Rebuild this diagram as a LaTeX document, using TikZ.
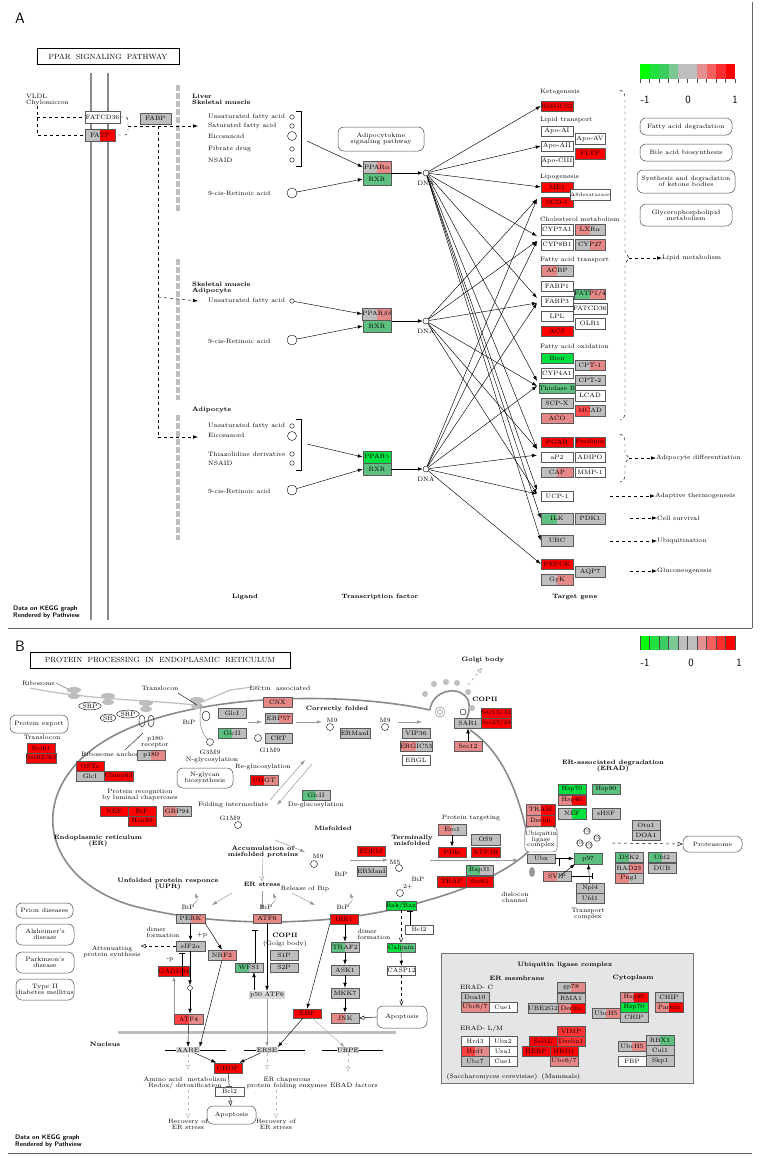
\documentclass[tikz,border=0pt]{standalone}
\usetikzlibrary{arrows.meta,calc,shapes.geometric}
\definecolor{R}{HTML}{FF0000}
\definecolor{PK}{HTML}{E48888}
\definecolor{GY}{HTML}{BEBEBE}
\definecolor{GN}{HTML}{00E040}
\definecolor{LG}{HTML}{5EC080}
\definecolor{LN}{HTML}{8A8A8A}
\newcommand\tf{\fontsize{6.3}{6.8}\selectfont}
\newcommand\gb[7]{\node[gene,fill=#6,minimum width={(#4-#2)*1pt},minimum height={(#5-#3)*1pt}] (#1) at ({(#2+#4)/2},{(#3+#5)/2}) {#7};}
\newcommand\gs[8]{\node[gene,fill=#6,minimum width={(#4-#2)*1pt},minimum height={(#5-#3)*1pt},path picture={\fill[#7] (path picture bounding box.south) rectangle (path picture bounding box.north east);}] (#1) at ({(#2+#4)/2},{(#3+#5)/2}) {#8};}
\newcommand\rb[6]{\node[rbox,minimum width={(#4-#2)*1pt},minimum height={(#5-#3)*1pt}] (#1) at ({(#2+#4)/2},{(#3+#5)/2}) {#6};}
\begin{document}
\begin{tikzpicture}[x=1pt,y=-1pt,
 gene/.style={draw=black!65,line width=0.5pt,inner sep=0pt,font=\tf,rectangle},
 rbox/.style={draw=black!70,rounded corners=6pt,inner sep=0pt,font=\tf,align=center,line width=0.5pt},
 lab/.style={font=\tf,inner sep=0pt,align=center},
 bl/.style={font=\tf\bfseries,inner sep=0pt,align=center},
 arr/.style={-{Latex[length=5pt,width=3.5pt]},line width=0.45pt},
 darr/.style={arr,dashed},
 garr/.style={-{Latex[length=5pt,width=3.5pt]},draw=GY!80!black,line width=0.8pt},
 oarr/.style={-{Triangle[open,length=5pt,width=4pt]},line width=0.45pt},
 inh/.style={-{Bar[width=6pt]},line width=0.45pt},
 dot/.style={circle,draw=black,fill=white,inner sep=0pt,minimum size=#1},
 dot/.default=5pt,
 leg/.style={font=\sffamily\fontsize{11}{12}\selectfont,inner sep=0pt}]
\useasboundingbox (0,0) rectangle (761,1160);
\fill[white] (0,0) rectangle (761,1160);

%================= PANEL A ==================
\node[font=\sffamily\fontsize{15}{16}\selectfont,inner sep=0] (labA) at (20,18) {A};
\node[draw,line width=0.8pt,minimum width=142pt,minimum height=16pt,inner sep=0,font=\fontsize{7.5}{8}\selectfont] (titA) at (108,56.5) {PPAR\ \ SIGNALING\ \ PATHWAY};
\draw[line width=0.6pt,black!60] (752,2) -- (752,628);
\draw[line width=0.6pt,black!60] (8,628) -- (752,628);
% legend
\foreach \c [count=\i from 0] in {00FF00,22E040,3CCC60,7CC894,BEBEBE,BEBEBE,E49090,F26060,FA2E2E,FF0000}{
  \definecolor{tmp}{HTML}{\c}\fill[tmp] ({640+\i*9.5},64) rectangle ({649.5+\i*9.5},79);}
\foreach \i in {0,...,10}{\draw[black!70,line width=0.4pt] ({640+\i*9.5},79) -- ({640+\i*9.5},83);}
\node[leg] (lgA1) at (645,100) {-1};
\node[leg] (lgA2) at (688,100) {0};
\node[leg] (lgA3) at (735,100) {1};

% membrane
\draw[LN,line width=2.5pt] (91,73) -- (91,620);
\draw[LN,line width=2.5pt] (108,73) -- (108,620);
\foreach \a/\b in {85/213,259/400,415/540}{\draw[GY,line width=3.5pt,dash pattern=on 6pt off 2pt] (178,\a) -- (178,\b);}
\node[lab,align=left,anchor=west] (vldl) at (26,100) {VLDL\\[-1pt]Chylomicron};
\gb{fatcd}{85}{111}{120}{123}{white}{FATCD36}
\gs{fatp}{85}{129}{115}{141}{GY}{R}{FATP}
\gb{fabp}{140}{113}{171}{124}{GY}{FABP}
\draw[dashed,line width=0.45pt] (37,106) -- (37,135) -- (fatp.west);
\draw[dashed,line width=0.45pt] (37,117) -- (fatcd.west);
\draw[dashed,line width=0.45pt,rounded corners=3pt] (fatcd.east) -- (128,117) -- (128,135) -- (fatp.east);
\coordinate (fa1) at (198,126);
\coordinate (fa2) at (198,301);
\coordinate (fa3) at (198,437);
\draw[darr] (128,126) -- (fa1);
\draw[dashed,line width=0.45pt] (158,126) -- (158,437);
\draw[darr] (158,297) -- (fa2);
\draw[darr] (158,437) -- (fa3);

% group 1
\node[bl,align=left,anchor=west] (g1t) at (192,99) {Liver\\[-1pt]Skeletal muscle};
\foreach \t/\y in {Unsaturated fatty acid/117,Saturated fatty acid/126,Eicosanoid/136,Fibrate drug/149,NSAID/160}{\node[lab,anchor=west] at (208,\y) {\t};}
\foreach \y in {117,126,149,160}{\node[dot=4.5pt] at (292,\y) {};}
\node[dot=9pt] (eic1) at (292,136) {};
\draw[line width=0.45pt] (296,111) -- (301,111) -- (301,166) -- (296,166);
\coordinate (br1) at (307,141);
\node[lab,anchor=west] (rt1l) at (208,193) {9-cis-Retinoic acid};
\node[dot=10pt] (rt1) at (292,193) {};
\rb{adip}{338}{127}{424}{151}{Adipocytokine\\[-1pt]signaling pathway}
\gs{ppara}{363}{161}{391}{173}{GY}{PK}{PPAR$\alpha$}
\gb{rxr1}{363}{173}{391}{185}{LG}{RXR}
\draw[arr] (br1) -- (ppara.west);
\draw[arr] (rt1) -- (rxr1.west);
\node[dot=6pt] (d1) at (426,173) {};
\node[lab] (d1l) at (426,183) {DNA};
\draw[arr] (ppara.east|-d1) -- (d1);

% group 2
\node[bl,align=left,anchor=west] (g2t) at (192,288) {Skeletal muscle\\[-1pt]Adipocyte};
\node[lab,anchor=west] (u2l) at (208,301) {Unsaturated fatty acid};
\node[dot=4.5pt] (u2) at (292,301) {};
\node[lab,anchor=west] (rt2l) at (208,341) {9-cis-Retinoic acid};
\node[dot=10pt] (rt2) at (292,340) {};
\gs{pparb}{363}{308}{391}{320}{GY}{PK}{PPAR$\beta\delta$}
\gb{rxr2}{363}{320}{391}{332}{LG}{RXR}
\draw[arr] (u2) -- (pparb.west);
\draw[arr] (rt2) -- (rxr2.west);
\node[dot=6pt] (d2) at (426,321) {};
\node[lab] (d2l) at (426,331) {DNA};
\draw[arr] (pparb.east|-d2) -- (d2);

% group 3
\node[bl,anchor=west] (g3t) at (192,410) {Adipocyte};
\foreach \t/\y in {Unsaturated fatty acid/426,Eicosanoid/435,Thiazolidine derivative/454,NSAID/463}{\node[lab,anchor=west] at (208,\y) {\t};}
\foreach \y in {426,454,463}{\node[dot=4.5pt] at (292,\y) {};}
\node[dot=9pt] (eic3) at (292,436) {};
\draw[line width=0.45pt] (296,419) -- (301,419) -- (301,470) -- (296,470);
\coordinate (br3) at (307,444);
\node[lab,anchor=west] (rt3l) at (208,491) {9-cis-Retinoic acid};
\node[dot=10pt] (rt3) at (292,490) {};
\gb{pparg}{363}{451}{391}{463}{GN}{PPAR$\gamma$}
\gb{rxr3}{363}{463}{391}{475}{LG}{RXR}
\draw[arr] (br3) -- (pparg.west);
\draw[arr] (rt3) -- (rxr3.west);
\node[dot=6pt] (d3) at (426,469) {};
\node[lab] (d3l) at (426,479) {DNA};
\draw[arr] (pparg.east|-d3) -- (d3);

% target genes
\node[lab,anchor=west] at (540,92) {Ketogenesis};
\gb{hmg}{541}{101}{573}{111}{R}{HMGCS2}
\node[lab,anchor=west] at (540,120) {Lipid transport};
\gb{apo1}{541}{126}{573}{136}{white}{Apo-AI}
\gb{apo2}{541}{141}{573}{151}{white}{Apo-AII}
\gb{apo3}{541}{156}{573}{166}{white}{Apo-CIII}
\gb{apo5}{575}{133}{605}{144}{white}{Apo-AV}
\gb{pltp}{575}{148}{605}{159}{R}{PLTP}
\node[lab,anchor=west] at (540,177) {Lipogenesis};
\gb{me1}{541}{182}{573}{192}{R}{ME1}
\gb{scd}{541}{197}{573}{207}{R}{SCD-1}
\gb{d9}{575}{189}{605}{200}{white}{\fontsize{5}{5}\selectfont$\Delta$9desaturase}
\node[lab,anchor=west] at (540,219) {Cholesterol metabolism};
\gb{cyp7}{541}{224}{573}{235}{white}{CYP7A1}
\gb{cyp8}{541}{239}{573}{250}{white}{CYP8B1}
\gs{lxr}{575}{224}{605}{235}{PK}{GY}{LXR$\alpha$}
\gs{cyp27}{575}{239}{605}{250}{GY}{PK}{CYP27}
\node[lab,anchor=west] at (540,260) {Fatty acid transport};
\gs{acbp}{541}{265}{573}{276}{PK}{GY}{ACBP}
\gb{fabp1}{541}{281}{573}{291}{white}{FABP1}
\gb{fabp3}{541}{296}{573}{306}{white}{FABP3}
\gb{lpl}{541}{311}{573}{321}{white}{LPL}
\gb{acs}{541}{326}{573}{336}{R}{ACS}
\gs{fatp14}{575}{289}{605}{299}{LG}{PK}{FATP1/4}
\gb{fatcd2}{575}{303}{605}{314}{white}{FATCD36}
\gb{olr1}{575}{318}{605}{329}{white}{OLR1}
\node[lab,anchor=west] at (540,347) {Fatty acid oxidation};
\gb{bien}{541}{353}{573}{363}{GN}{Bien}
\gb{cyp4}{541}{368}{573}{378}{white}{CYP4A1}
\gb{thiol}{541}{383}{573}{393}{LG}{Thiolase B}
\gb{scpx}{541}{398}{573}{408}{GY}{SCP-X}
\gb{aco}{541}{413}{573}{423}{PK}{ACO}
\gs{cpt1}{575}{360}{605}{370}{GY}{PK}{CPT-1}
\gb{cpt2}{575}{375}{605}{385}{GY}{CPT-2}
\gb{lcad}{575}{390}{605}{401}{white}{LCAD}
\gs{mcad}{575}{405}{605}{416}{R!70}{GY}{MCAD}
\gb{pgar}{541}{437}{573}{447}{R}{PGAR}
\gb{peri}{575}{437}{605}{447}{R}{Perilipin}
\gb{ap2}{541}{452}{573}{462}{white}{aP2}
\gb{adipo}{575}{452}{605}{462}{white}{ADIPO}
\gs{cap}{541}{467}{573}{477}{GY}{PK}{CAP}
\gb{mmp1}{575}{467}{605}{477}{white}{MMP-1}
\gb{ucp1}{541}{491}{573}{501}{white}{UCP-1}
\gs{ilk}{541}{513}{573}{524}{LG}{GY}{ILK}
\gb{pdk1}{575}{513}{605}{524}{GY}{PDK1}
\gb{ubc}{541}{535}{573}{546}{GY}{UBC}
\gb{pepck}{541}{559}{573}{569}{R}{PEPCK}
\gs{gyk}{541}{574}{573}{585}{GY}{PK}{GyK}
\gb{aqp7}{575}{566}{605}{577}{GY}{AQP7}
% DNA arrows
\coordinate (tc1) at (537,236);
\coordinate (tf1) at (537,298);
\coordinate (tf2) at (537,303);
\coordinate (to1) at (537,381);
\coordinate (to2) at (537,386);
\coordinate (tp1) at (537,449);
\coordinate (tp2) at (537,455);
\coordinate (tu1) at (537,490);
\coordinate (tu2) at (537,494);
\coordinate (tc2) at (537,241);
\coordinate (tl2) at (537,199);
\foreach \t in {hmg.west,apo2.west,me1.west,tc1,tf1,to1,tp1,tu1,ilk.west,ubc.west}{\draw[arr] (d1) -- (\t);}
\foreach \t in {tl2,tf2,to2,tc2,tp1,tu2}{\draw[arr] (d2) -- (\t);}
\foreach \t in {tc2,tf2,to2,tp2,tu2,pepck.west,tl2}{\draw[arr] (d3) -- (\t);}
% right side
\rb{fad}{640}{118}{732}{135}{Fatty acid degradation}
\rb{bile}{640}{144}{732}{161}{Bile acid biosynthesis}
\rb{ket}{637}{170}{735}{193}{Synthesis and degradation\\[-1pt]of ketone bodies}
\rb{glyc}{640}{204}{732}{226}{Glycerophospholipid\\[-1pt]metabolism}
\draw[dashed,line width=0.45pt] (620,90) to[out=0,in=90] (625,96) -- (625,252) -- (629,258) -- (625,264) -- (625,412) to[out=-90,in=0] (620,420);
\draw[dashed,line width=0.45pt] (620,434) to[out=0,in=90] (625,440) -- (625,453) -- (629,458) -- (625,463) -- (625,476) to[out=-90,in=0] (620,482);
\node[lab,anchor=west] (lipm) at (662,258) {Lipid metabolism};
\node[lab,anchor=west] (adid) at (656,458) {Adipocyte differentiation};
\node[lab,anchor=west] (adth) at (655,496) {Adaptive thermogenesis};
\node[lab,anchor=west] (cels) at (657,518) {Cell survival};
\node[lab,anchor=west] (ubq) at (657,541) {Ubiquitination};
\node[lab,anchor=west] (glu) at (657,571) {Gluconeogenesis};
\draw[darr] (629,258) -- (lipm.west);
\draw[darr] (629,458) -- (adid.west);
\draw[darr] (610,496) -- (adth.west);
\draw[darr] (630,518) -- (cels.west);
\draw[darr] (610,541) -- (ubq.west);
\draw[darr] (630,571) -- (glu.west);
\node[bl] at (245,597) {Ligand};
\node[bl] at (380,597) {Transcription factor};
\node[bl] at (575,597) {Target gene};
\node[font=\sffamily\bfseries\fontsize{6.5}{7}\selectfont,anchor=west,inner sep=0,align=left] (dk1) at (13,612) {Data on KEGG graph\\Rendered by Pathview};

%================= PANEL B ==================
\node[font=\sffamily\fontsize{15}{16}\selectfont,inner sep=0] (labB) at (20,646) {B};
\node[draw,line width=0.8pt,minimum width=260pt,minimum height=16pt,inner sep=0,font=\fontsize{7.5}{8}\selectfont] (titB) at (160,660) {PROTEIN\ \ PROCESSING\ \ IN\ \ ENDOPLASMIC\ \ RETICULUM};
\draw[line width=0.6pt,black!60] (8,1153) -- (752,1153);
\foreach \c [count=\i from 0] in {00FF00,22E040,3CCC60,7CC894,BEBEBE,BEBEBE,E49090,F26060,FA2E2E,FF0000}{
  \definecolor{tmp}{HTML}{\c}\fill[tmp] ({640+\i*9.5},636) rectangle ({649.5+\i*9.5},650);}
\foreach \i in {0,...,10}{\draw[black!70,line width=0.4pt] ({640+\i*9.5},636) -- ({640+\i*9.5},650);}
\node[leg] (lgB1) at (645,663) {-1};
\node[leg] (lgB2) at (691,663) {0};
\node[leg] (lgB3) at (739,663) {1};

% ER membrane
\draw[LN,line width=1.6pt] (430,710) .. controls (340,690) and (150,690) .. (80,760)
  .. controls (30,810) and (50,880) .. (130,905) .. controls (220,930) and (340,925) .. (410,905)
  .. controls (470,890) and (510,870) .. (530,850);
\draw[LN,line width=1.6pt] (530,850) .. controls (520,790) and (500,750) .. (470,730);
\draw[LN,line width=1.6pt] (430,710) .. controls (432,690) and (460,684) .. (468,700) .. controls (472,712) and (465,722) .. (462,724);
\draw[GY!80!black,line width=0.6pt] (440,712) circle (5pt);
\draw[GY!80!black,line width=0.6pt] (440,712) circle (2.5pt);
\draw[black,line width=0.4pt,fill=white] (463,712) circle (3pt);
\foreach \p in {(425,694),(434,684),(446,682),(457,683),(468,692),(472,708)}{\fill[GY] \p circle (3pt);}
\node[bl] (golgi) at (483,660) {Golgi body};
\draw[garr,dashed,line width=0.5pt,-{Triangle[open,length=5pt,width=4pt]}] (468,685) -- (482,668);
% ribosome track
\node[lab,anchor=east] (ribo) at (55,683) {Ribosome};
\draw[GY!80!black,line width=0.7pt] (56,683) -- (70,690);
\draw[GY,line width=1.2pt] (30,688) .. controls (90,700) and (150,700) .. (195,705);
\draw[GY,line width=1.2pt] (195,705) -- (230,690) -- (260,686);
\foreach \p in {(74,690),(108,696),(146,703),(197,700)}{\fill[GY] \p ellipse (7pt and 3pt); \fill[GY] \p ++(0,6) ellipse (6pt and 3pt);}
\node[draw,ellipse,inner sep=0.5pt,font=\tf,fill=white] (srp1) at (90,706) {SRP};
\node[draw,ellipse,inner sep=0.5pt,font=\tf,fill=white] (sr) at (108,718) {SR};
\node[draw,ellipse,inner sep=0.5pt,font=\tf,fill=white] (srp2) at (128,714) {SRP};
\draw[black,line width=0.4pt] (142,721) ellipse (3pt and 6pt) (151,721) ellipse (3pt and 6pt);
\node[lab] (transl) at (160,688) {Translocon};
\draw[line width=0.4pt] (178,693) -- (197,705);
\rb{pexp}{10}{715}{68}{733}{Protein export}
\node[lab] at (42,737) {Translocon};
\gb{sec61a}{27}{743}{55}{753}{R}{Sec61}
\gb{sec62}{27}{753}{55}{763}{R}{Sec62/63}
\node[lab] at (110,754) {Ribosome anchor};
\node[lab] at (155,742) {p180\\[-1pt]receptor};
\draw[line width=0.4pt] (143,733) -- (125,750);
\gs{p180}{137}{750}{165}{760}{GY}{PK}{p180}
\gb{osts}{76}{761}{104}{771}{R}{OSTs}
\gb{glci1}{76}{771}{104}{781}{GY}{GlcI}
\gb{climp}{104}{771}{133}{781}{R}{Climp63}
\node[lab] at (189,722) {BiP};
\draw[line width=0.4pt,fill=white] (206,716) ellipse (4pt and 5pt);
\draw[GY!70!black,line width=0.5pt] (201,705) .. controls (198,725) and (202,735) .. (210,742);
\node[dot=7pt] (g3m9c) at (210,742) {};
\node[lab] at (210,752) {G3M9};
\node[lab] at (212,760) {N-glycosylation};
\rb{nglyc}{177}{768}{233}{788}{N-glycan\\[-1pt]biosynthesis}
\gb{glci}{218}{708}{246}{718}{GY}{GlcI}
\gs{glcii}{218}{728}{246}{738}{LG}{GY}{GlcII}
\draw[garr,line width=0.5pt] (248,722) -- (262,722);
\node[lab] at (280,688) {Lectin\ \ associated};
\gb{cnx}{263}{697}{292}{707}{PK}{CNX}
\gs{erp57}{265}{713}{292}{723}{GY}{PK}{ERP57}
\gb{crt}{265}{733}{292}{743}{GY}{CRT}
\node[dot=7pt] (g1m9c) at (258,738) {};
\node[lab] at (270,750) {G1M9};
\node[lab] at (263,767) {Re-glucosylation};
\gs{uggt}{250}{775}{278}{785}{R}{PK}{UGGT}
\node[bl] at (337,709) {Correctly folded};
\draw[garr,line width=0.5pt] (296,722) -- (322,722);
\node[lab] at (332,720) {M9};
\node[dot=7pt] at (330,727) {};
\gb{ermani}{340}{728}{370}{738}{GY}{ERManI}
\draw[garr,line width=0.5pt] (398,722) -- (422,722);
\node[lab] at (385,720) {M9};
\node[dot=7pt] at (385,727) {};
\gb{vip36}{402}{728}{430}{738}{GY}{VIP36}
\gs{ergic}{402}{741}{430}{751}{PK}{GY}{ERGIC53}
\gb{ergl}{402}{755}{430}{765}{white}{ERGL}
\gs{glcii2}{302}{790}{330}{800}{LG}{GY}{GlcII}
\node[lab] at (316,805) {De-glucosylation};
\node[lab] at (233,805) {Folding intermediate};
\node[lab] at (230,818) {G1M9};
\node[dot=7pt] at (238,825) {};
\draw[garr,line width=0.5pt] (270,800) -- (305,760);
\draw[garr,line width=0.5pt] (312,764) -- (277,805);
\node[lab] at (140,795) {Protein recognition\\[-1pt]by luminal chaperones};
\gb{nef1}{100}{806}{128}{816}{R}{NEF}
\gb{bip1}{128}{806}{156}{816}{R}{BiP}
\gb{hsp40a}{128}{816}{156}{826}{R}{Hsp40}
\gs{grp94}{163}{806}{191}{816}{PK}{GY}{GRP94}
\node[bl] at (98,841) {Endoplasmic reticulum\\[-1pt](ER)};
\node[bl] at (333,828) {Misfolded};
\node[bl] (accum) at (263,852) {Accumulation of\\[-1pt]misfolded proteins};
\draw[garr,line width=0.5pt] (275,840) -- (305,852);
\node[lab] at (318,856) {M9};
\node[dot=7pt] at (314,864) {};
\node[lab] at (341,874) {BiP};
\gb{edem}{357}{846}{385}{856}{R}{EDEM}
\gb{ermani2}{358}{866}{385}{876}{GY}{ERManI}
\draw[garr,line width=0.5pt] (350,860) -- (388,860);
\node[lab] at (395,862) {M5};
\node[dot=7pt] at (399,868) {};
\node[lab] at (418,879) {BiP};
\node[bl] at (412,840) {Terminally\\[-1pt]misfolded};
\node[lab] at (471,818) {Protein targeting};
\gs{ero1}{438}{824}{466}{835}{PK}{GY}{Ero1}
\gb{os9}{471}{834}{500}{845}{GY}{OS9}
\gb{pdis}{438}{847}{466}{857}{R}{PDIs}
\gb{xtp3b}{471}{847}{500}{857}{R}{XTP3B}
\draw[arr] (ero1) -- (pdis);
\draw[garr,line width=0.5pt] (430,860) -- (518,860);
\gs{bap31}{466}{865}{493}{875}{LG}{GY}{Bap31}
\gb{trap}{437}{876}{466}{887}{R}{TRAP}
\gb{sec61b}{466}{876}{493}{887}{R}{Sec61}
\node[bl] at (485,699) {COPII};
\gb{sar1}{454}{718}{482}{728}{GY}{SAR1}
\gb{sec13}{482}{708}{510}{718}{R}{Sec13/31}
\gb{sec23}{482}{718}{510}{728}{R}{Sec23/24}
\gb{sec12}{454}{741}{482}{751}{PK}{Sec12}
\draw[arr] (sec12) -- (sar1);
\node[bl] at (613,766) {ER-associated degradation\\[-1pt](ERAD)};
\gb{hsp70a}{558}{784}{586}{794}{GN}{Hsp70}
\gb{hsp90}{592}{784}{620}{794}{LG}{Hsp90}
\gs{hsp40b}{558}{795}{586}{805}{PK}{R}{Hsp40}
\gs{nef2}{558}{808}{586}{819}{GY}{GN}{NEF}
\gb{shsf}{592}{808}{620}{819}{GY}{sHSF}
\gs{tram}{526}{804}{555}{815}{PK}{R}{TRAM}
\gs{derlin}{526}{815}{555}{826}{PK}{R}{Derlin}
\node[draw=black!70,rounded corners=4pt,inner sep=0,font=\tf,align=center,minimum width=30pt,minimum height=25pt,fill=white] (ulc) at (541,839.5) {Ubiquitin\\[-1.5pt]ligase\\[-1.5pt]complex};
\gb{ubx}{527}{854}{555}{863}{GY}{Ubx}
\gb{p97}{574}{853}{602}{864}{LG}{p97}
\foreach \p in {(587,831),(597,838),(589,845),(580,843)}{\draw[line width=0.4pt,fill=white] \p circle (3.3pt); \node[font=\fontsize{4}{4}\selectfont,inner sep=0] at \p {Ub};}
\gb{otu1}{632}{820}{660}{830}{GY}{Otu1}
\gb{doa1}{632}{830}{660}{840}{GY}{DOA1}
\rb{prot}{683}{836}{742}{852}{Proteasome}
\coordinate (pa) at (612,843);
\draw[dashed,line width=0.45pt,-{Triangle[open,length=5pt,width=4pt]}] (pa) -- (prot.west);
\gs{dsk2}{615}{852}{643}{862}{LG}{GY}{DSK2}
\gs{ufd2}{648}{852}{676}{862}{LG}{GY}{Ufd2}
\gs{rad23}{615}{863}{643}{873}{GY}{PK}{RAD23}
\gb{dub}{648}{863}{676}{873}{GY}{DUB}
\gs{png1}{615}{873}{643}{883}{PK}{GY}{Png1}
\gs{svip}{543}{871}{571}{881}{PK}{GY}{SVIP}
\gb{npl4}{576}{883}{604}{893}{GY}{Npl4}
\gb{ufd1}{576}{893}{604}{903}{GY}{Ufd1}
\node[lab] at (588,914) {Transport\\[-1pt]complex};
\node[lab] at (515,897) {dislocon\\[-1pt]channel};
\draw[arr] (ubx) -- (p97);
\draw[arr] (npl4) -- (p97);
\draw[arr] (560,876) -- (575,864);
\draw[inh] (svip.east) -- (592,876);
\draw[inh] (559,866) -- (559,858);
\fill[GY!80!black] (532,872) ellipse (3pt and 5pt);

% UPR
\node[bl] at (168,884) {Unfolded protein responce\\[-1pt](UPR)};
\node[bl] (erstress) at (262,884) {ER stress};
\draw[oarr,draw=GY!80!black] (accum.south) -- (erstress.north);
\node[lab] at (305,889) {Release of Bip};
\draw[garr,line width=0.5pt] (232,893) -- (212,905);
\draw[garr,line width=0.5pt] (262,891) -- (262,910);
\draw[garr,line width=0.5pt] (292,893) -- (315,905);
\foreach \x in {188,266,343}{\node[lab] at (\x,907) {BiP}; \draw[garr,line width=0.5pt] (\x+5,905) .. controls (\x+10,900) .. (\x+7,893);}
\node[lab] at (408,887) {2+};
\node[dot=7pt] at (400,893) {};
\rb{prion}{16}{903}{73}{918}{Prion diseases}
\rb{alz}{16}{924}{74}{945}{Alzheimer's\\[-1pt]disease}
\rb{park}{16}{952}{74}{973}{Parkinson's\\[-1pt]disease}
\rb{t2d}{16}{979}{74}{1000}{Type II\\[-1pt]diabetes mellitus}
\gs{perk}{176}{914}{205}{923}{GY}{PK}{PERK}
\gb{atf6}{253}{914}{281}{923}{PK}{ATF6}
\gb{ire1}{330}{914}{358}{924}{R}{IRE1}
\gb{bakbax}{387}{901}{415}{910}{GN}{Bak/Bax}
\gb{bcl2a}{405}{925}{433}{934}{white}{Bcl2}
\node[lab,align=left] at (163,932) {dimer\\[-1pt]formation};
\node[lab] at (202,935) {+p};
\gb{eif2a}{176}{941}{205}{951}{GY}{eIF2$\alpha$}
\node[lab] (atten) at (112,952) {Attenuating\\[-1pt]protein synthesis};
\gs{nrf2}{208}{950}{236}{960}{GY}{PK}{NRF2}
\node[lab] at (170,960) {-p};
\gb{gadd}{160}{966}{188}{976}{R}{GADD34}
\node[dot=5pt] (circ4) at (190,988) {};
\gs{atf4}{174}{1014}{203}{1024}{R!75}{PK}{ATF4}
\draw[arr] (perk) -- (eif2a);
\draw[arr] (perk.south east) -- (nrf2.north);
\draw[arr] (eif2a.south-|circ4) -- (circ4);
\draw[arr] (circ4) -- (atf4.north-|circ4);
\draw[arr,draw=GY!80!black,line width=0.8pt] (atf4.north-|gadd) -- (gadd.south);
\draw[inh] (182,976) -- (182,953);
\draw[dashed,line width=0.45pt,-{Triangle[open,length=5pt,width=4pt]}] (eif2a.west) -- (atten.east|-eif2a.west);
\node[bl] at (285,935) {COPII};
\node[lab] at (285,944) {(Golgi body)};
\gb{s1p}{270}{950}{298}{960}{GY}{S1P}
\gb{s2p}{270}{963}{298}{972}{GY}{S2P}
\gs{wfs1}{235}{963}{263}{972}{LG}{GY}{WFS1}
\node[fill=GY!60,inner sep=1pt,font=\tf,minimum width=35pt] (p50) at (267,995) {p50 ATF6};
\draw[inh] (255,963) -- (255,930);
\draw[arr] (254,990) -- (254,972);
\draw[arr] (atf6) -- (p50);
\gs{traf2}{331}{942}{359}{952}{LG}{GY}{TRAF2}
\node[lab,align=left] at (374,934) {dimer\\[-1pt]formation};
\gb{ask1}{331}{965}{359}{975}{GY}{ASK1}
\gb{mkk7}{331}{988}{359}{998}{GY}{MKK7}
\gs{jnk}{331}{1013}{359}{1023}{PK}{GY}{JNK}
\gb{xbp}{293}{1009}{321}{1018}{R}{XBP}
\rb{apop1}{377}{1006}{427}{1028}{Apoptosis}
\draw[arr] (345,924) -- (traf2);
\draw[arr] (traf2) -- (ask1);
\draw[arr] (ask1) -- (mkk7);
\draw[arr] (mkk7) -- (jnk);
\draw[arr] (ire1.south west) -- (xbp.north);
\draw[oarr] (apop1.west) -- (jnk.east);
\gs{calp}{387}{943}{415}{952}{GN}{LG}{Calpain}
\gb{casp12}{388}{966}{415}{975}{white}{CASP12}
\draw[dashed,line width=0.45pt,-{Triangle[open,length=5pt,width=4pt]}] (bakbax) -- (calp);
\draw[arr] (calp) -- (casp12);
\draw[dashed,line width=0.45pt,-{Triangle[open,length=5pt,width=4pt]}] (casp12) -- (casp12|-apop1.north);
\draw[inh] (410,925) -- (410,911);
% nucleus
\draw[GY,line width=3pt] (118,1032) -- (396,1032);
\node[bl] at (105,1044) {Nucleus};
\node[lab,fill=GY!60,inner sep=0.5pt] (aare) at (188,1050) {AARE};
\node[lab,fill=GY!60,inner sep=0.5pt] (erse) at (267,1050) {ERSE};
\node[lab,fill=GY!60,inner sep=0.5pt] (urpe) at (348,1050) {URPE};
\draw[line width=0.4pt] (165,1050) -- (aare.west) (aare.east) -- (226,1050);
\draw[line width=0.4pt] (244,1050) -- (erse.west) (erse.east) -- (305,1050);
\draw[line width=0.4pt] (322,1050) -- (urpe.west) (urpe.east) -- (383,1050);
\draw[arr] (atf4) -- (aare);
\draw[arr] (nrf2.south) -- (aare.north east);
\draw[arr,draw=GY!80!black,line width=0.8pt] (p50) -- (erse);
\draw[arr] (xbp) -- (erse.north east);
\draw[arr,draw=GY!90!black] (xbp) -- (urpe);
\gb{chop}{214}{1063}{242}{1073}{R}{CHOP}
\draw[arr] (aare) -- (chop);
\draw[arr] (erse) -- (chop);
\node[lab] at (185,1083) {Amino acid\ \ metabolism\\[-1pt]Redox/ detoxification};
\node[lab] at (287,1083) {ER chaperons\\[-1pt]protein folding enzymes};
\node[lab] at (354,1085) {ERAD factors};
\gb{bcl2b}{215}{1087}{244}{1096}{white}{Bcl2}
\draw[inh] (chop) -- (bcl2b);
\rb{apop2}{207}{1106}{256}{1124}{Apoptosis}
\draw[oarr] (bcl2b) -- (apop2);
\node[lab] (rec1) at (188,1124) {Recovery of\\[-1pt]ER stress};
\node[lab] (rec2) at (276,1124) {Recovery of\\[-1pt]ER stress};
\draw[dashed,draw=GY,line width=0.5pt,-{Triangle[open,length=5pt,width=4pt]}] (188,1054) -- (188,1070);
\draw[dashed,draw=GY,line width=0.5pt,-{Triangle[open,length=5pt,width=4pt]}] (188,1090) -- (rec1.north);
\draw[dashed,draw=GY,line width=0.5pt,-{Triangle[open,length=5pt,width=4pt]}] (erse.south) -- (267,1070);
\draw[dashed,draw=GY,line width=0.5pt,-{Triangle[open,length=5pt,width=4pt]}] (276,1090) -- (rec2.north);
\draw[dashed,draw=GY,line width=0.5pt,-{Triangle[open,length=5pt,width=4pt]}] (urpe.south) -- (348,1072);
\node[font=\sffamily\bfseries\fontsize{6.5}{7}\selectfont,anchor=west,inner sep=0,align=left] (dk2) at (15,1141) {Data on KEGG graph\\Rendered by Pathview};

% Ubiquitin ligase complex
\draw[fill=black!10,draw=black!55,line width=0.6pt] (441,953) rectangle (693,1083);
\node[bl] at (565,965) {Ubiquitin ligase complex};
\node[bl] at (517,978) {ER membrane};
\node[bl] at (633,978) {Cytoplasm};
\node[lab,anchor=west] at (460,987) {ERAD- C};
\gb{doa10}{461}{992}{489}{1002}{GY}{Doa10}
\gb{ubc67a}{461}{1002}{489}{1012}{PK}{Ubc6/7}
\gb{cue1a}{489}{1002}{517}{1012}{white}{Cue1}
\gs{gp78}{557}{982}{585}{992}{GY}{PK}{gp78}
\gb{rma1}{557}{993}{585}{1003}{GY}{RMA1}
\gs{derl}{557}{1003}{585}{1013}{PK}{R}{Derlin}
\gb{ube2g2}{529}{1003}{557}{1013}{GY}{UBE2G2}
\gs{hsp40c}{620}{992}{648}{1002}{PK}{R}{Hsp40}
\gb{hsp70c}{620}{1002}{648}{1012}{GN}{Hsp70}
\gb{chip1}{620}{1012}{648}{1022}{GY}{CHIP}
\gs{ubch5a}{592}{1008}{620}{1018}{GY}{PK}{UbcH5}
\gb{chip2}{655}{992}{683}{1002}{GY}{CHIP}
\gs{parkin}{655}{1002}{683}{1012}{PK}{R}{Parkin}
\node[lab,anchor=west] at (460,1029) {ERAD- L/M};
\gb{hrd3}{461}{1036}{489}{1046}{white}{Hrd3}
\gb{ubx2}{489}{1036}{517}{1046}{white}{Ubx2}
\gs{hrd1a}{461}{1046}{489}{1056}{R!75}{PK}{Hrd1}
\gb{usa1}{489}{1046}{517}{1056}{white}{Usa1}
\gb{ubc7}{461}{1056}{489}{1066}{GY}{Ubc7}
\gb{cue1b}{489}{1056}{517}{1066}{white}{Cue1}
\node[lab] at (492,1077) {(Saccharomyces cerevisiae)};
\gb{vimp}{557}{1026}{585}{1036}{R!80}{VIMP}
\gb{derl1}{557}{1036}{585}{1046}{R!80}{Derlin1}
\gb{sel1l}{529}{1036}{557}{1046}{R}{Sel1L}
\gb{herp}{522}{1046}{550}{1056}{R}{HERP}
\gb{hrd1b}{550}{1046}{578}{1056}{R}{HRD1}
\gb{ubc67b}{550}{1056}{578}{1066}{PK}{Ubc6/7}
\node[lab] at (561,1077) {(Mammals)};
\gs{ubch5b}{618}{1041}{646}{1051}{GY}{PK}{UbcH5}
\gs{rbx1}{646}{1035}{674}{1045}{GY}{LG}{RBX1}
\gb{cul1}{646}{1045}{674}{1055}{GY}{Cul1}
\gb{skp1}{646}{1055}{674}{1066}{GY}{Skp1}
\gb{fbp}{618}{1056}{646}{1066}{white}{FBP}
\end{tikzpicture}
\end{document}
